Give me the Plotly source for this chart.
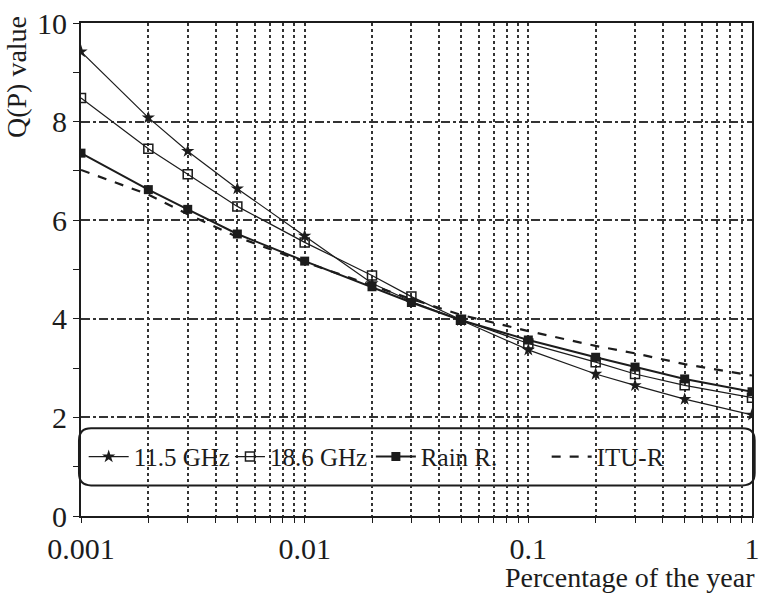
import numpy as np
import plotly.graph_objects as go

# Percentage of the year (x) and Q(P) values for each curve
percent = [0.001, 0.002, 0.003, 0.005, 0.01, 0.02, 0.03, 0.05, 0.1, 0.2, 0.3, 0.5, 1]
q_11_5 = [9.42, 8.08, 7.40, 6.64, 5.68, 4.72, 4.35, 3.97, 3.37, 2.88, 2.65, 2.37, 2.05]
q_18_6 = [8.48, 7.45, 6.93, 6.28, 5.55, 4.88, 4.45, 3.98, 3.50, 3.12, 2.88, 2.65, 2.40]
q_rain = [7.36, 6.62, 6.22, 5.72, 5.17, 4.65, 4.33, 3.97, 3.57, 3.22, 3.02, 2.78, 2.52]
q_itu = [7.02, 6.52, 6.12, 5.66, 5.15, 4.68, 4.40, 4.08, 3.75, 3.45, 3.30, 3.08, 2.85]

# Log-axis grid positions (1..9 per decade) with labels only at decades
grid_x = [m * 10.0 ** e for e in (-3, -2, -1) for m in range(1, 10)] + [1]
decade_labels = {0.001: "0.001", 0.01: "0.01", 0.1: "0.1", 1: "1"}
grid_text = [decade_labels.get(round(v, 6), "") for v in grid_x]
y_ticks = [0, 2, 4, 6, 8, 10]

INK = "#1c1c1c"
SERIF = "Liberation Serif, Times New Roman, serif"

fig = go.Figure()
fig.add_trace(go.Scatter(
    x=percent, y=q_11_5, name="11.5 GHz", mode="lines+markers", legend="legend",
    line=dict(color=INK, width=1.2),
    marker=dict(symbol="star", size=10, color=INK)))
fig.add_trace(go.Scatter(
    x=percent, y=q_18_6, name="18.6 GHz", mode="lines+markers", legend="legend2",
    line=dict(color=INK, width=1.2),
    marker=dict(symbol="square-open", size=9, color=INK, line=dict(width=1.5, color=INK))))
fig.add_trace(go.Scatter(
    x=percent, y=q_rain, name="Rain R.", mode="lines+markers", legend="legend3",
    line=dict(color=INK, width=2),
    marker=dict(symbol="square", size=9, color=INK)))
fig.add_trace(go.Scatter(
    x=percent, y=q_itu, name="ITU-R", mode="lines", legend="legend4",
    line=dict(color=INK, width=2.2, dash="dash")))

# Rounded frame behind the legend entries
x0, x1, y0, y1 = -0.003, 1.004, 0.062, 0.178
rx, ry = 0.018, 0.025
path = (f"M {x0+rx},{y0} L {x1-rx},{y0} Q {x1},{y0} {x1},{y0+ry} "
        f"L {x1},{y1-ry} Q {x1},{y1} {x1-rx},{y1} L {x0+rx},{y1} "
        f"Q {x0},{y1} {x0},{y1-ry} L {x0},{y0+ry} Q {x0},{y0} {x0+rx},{y0} Z")
fig.add_shape(type="path", path=path, xref="paper", yref="paper",
              fillcolor="white", line=dict(color=INK, width=2), layer="between")


def legend_at(x, iw):
    return dict(orientation="h", x=x, y=0.12, xanchor="left", yanchor="middle",
                bgcolor="rgba(0,0,0,0)", font=dict(family=SERIF, size=25, color=INK),
                itemwidth=iw)


fig.update_layout(
    width=766, height=593,
    margin=dict(l=81, r=6, t=18, b=77),
    paper_bgcolor="white", plot_bgcolor="white",
    font=dict(family=SERIF, size=26, color=INK),
    showlegend=True,
    legend=legend_at(0.004, 40),
    legend2=legend_at(0.222, 30),
    legend3=legend_at(0.432, 40),
    legend4=legend_at(0.694, 40),
    xaxis=dict(type="log", range=[-3, 0], tickmode="array", tickvals=grid_x, ticktext=grid_text,
               showgrid=True, gridcolor="#333", griddash="dot", gridwidth=1.5,
               showline=True, linecolor=INK, linewidth=2, mirror=True,
               ticks="outside", ticklen=5, tickcolor=INK, zeroline=False,
               tickfont=dict(family=SERIF, size=30, color=INK)),
    yaxis=dict(range=[0, 10], tickmode="array", tickvals=y_ticks,
               showgrid=True, gridcolor="#333", griddash="dashdot", gridwidth=1.5,
               showline=True, linecolor=INK, linewidth=2, mirror=True,
               ticks="outside", ticklen=6, tickcolor=INK, zeroline=False,
               minor=dict(tickvals=[1, 3, 5, 7, 9], ticks="outside", ticklen=6,
                          tickcolor=INK, showgrid=False),
               tickfont=dict(family=SERIF, size=30, color=INK)),
)

fig.add_annotation(text="Q(P) value", xref="paper", yref="paper", x=-0.097, y=1.018,
                   xanchor="center", yanchor="top", textangle=-90, showarrow=False,
                   font=dict(family=SERIF, size=28, color=INK))
fig.add_annotation(text="Percentage of the year", xref="paper", yref="paper", x=1.008, y=-0.125,
                   xanchor="right", yanchor="middle", showarrow=False,
                   font=dict(family=SERIF, size=28, color=INK))

fig.write_html("out.html")
